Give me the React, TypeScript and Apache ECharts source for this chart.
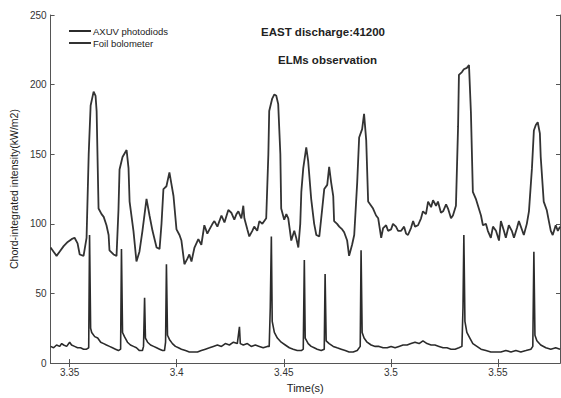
import React, { useEffect, useRef } from "react";
import * as echarts from "echarts";

// Foil bolometer (upper, slow trace)
const bolTime = [3.3411,3.3425,3.3439,3.3453,3.3472,3.3491,3.3509,3.3523,3.3537,3.3547,3.3565,3.3579,3.3589,3.3598,3.3612,3.3621,3.3626,3.3635,3.3649,3.3659,3.3672,3.3682,3.3686,3.3705,3.3719,3.3728,3.3733,3.3747,3.3766,3.3775,3.3780,3.3798,3.3812,3.3826,3.3840,3.3859,3.3873,3.3887,3.3906,3.3920,3.3929,3.3938,3.3952,3.3966,3.3976,3.3985,3.3999,3.4013,3.4022,3.4036,3.4050,3.4059,3.4069,3.4083,3.4101,3.4115,3.4129,3.4143,3.4153,3.4167,3.4176,3.4190,3.4209,3.4223,3.4241,3.4255,3.4269,3.4279,3.4288,3.4302,3.4311,3.4316,3.4330,3.4339,3.4353,3.4362,3.4376,3.4386,3.4400,3.4409,3.4418,3.4428,3.4432,3.4446,3.4456,3.4465,3.4474,3.4484,3.4488,3.4502,3.4512,3.4521,3.4535,3.4549,3.4558,3.4568,3.4577,3.4582,3.4591,3.4605,3.4614,3.4628,3.4642,3.4652,3.4666,3.4679,3.4689,3.4703,3.4712,3.4721,3.4731,3.4735,3.4749,3.4759,3.4773,3.4782,3.4796,3.4805,3.4819,3.4829,3.4843,3.4852,3.4866,3.4875,3.4885,3.4894,3.4908,3.4917,3.4931,3.4941,3.4955,3.4964,3.4978,3.4987,3.5001,3.5010,3.5024,3.5034,3.5048,3.5062,3.5071,3.5080,3.5094,3.5104,3.5113,3.5127,3.5141,3.5150,3.5164,3.5174,3.5188,3.5197,3.5211,3.5220,3.5234,3.5244,3.5258,3.5267,3.5281,3.5290,3.5304,3.5314,3.5318,3.5332,3.5341,3.5355,3.5365,3.5374,3.5383,3.5397,3.5407,3.5421,3.5430,3.5444,3.5453,3.5467,3.5477,3.5491,3.5505,3.5514,3.5528,3.5537,3.5551,3.5565,3.5575,3.5589,3.5598,3.5612,3.5621,3.5635,3.5645,3.5659,3.5668,3.5677,3.5686,3.5696,3.5700,3.5714,3.5728,3.5738,3.5747,3.5756,3.5770,3.5780,3.5790];
const bolValue = [83,80,77,80,84,87,89,90,86,78,77,90,150,185,195,192,181,111,107,105,99,92,81,78,77,110,139,148,153,140,116,95,73,80,95,118,106,95,83,82,100,125,127,137,128,120,96,92,88,71,75,78,73,83,89,85,99,93,96,100,102,98,106,101,110,108,103,107,109,104,113,104,96,91,95,98,95,102,100,102,104,150,181,190,193,192,186,150,111,103,107,104,88,95,90,83,100,123,140,155,145,118,100,92,91,110,125,128,141,130,120,102,100,98,96,94,88,77,85,92,130,162,168,179,160,116,113,111,106,104,90,97,99,95,96,100,98,95,95,98,93,92,97,102,98,99,104,109,107,116,112,117,113,116,108,109,114,111,104,106,113,170,207,209,211,212,214,180,123,118,113,106,99,100,95,90,98,95,88,102,95,90,99,95,90,97,102,96,92,100,109,140,167,171,173,165,148,116,110,102,95,92,99,95,98];

// AXUV photodiodes (lower, fast spiky trace)
const axuvTime = [3.3411,3.3425,3.3439,3.3453,3.3463,3.3472,3.3486,3.3500,3.3509,3.3523,3.3537,3.3551,3.3565,3.3579,3.3589,3.3593,3.3598,3.3603,3.3617,3.3631,3.3645,3.3659,3.3672,3.3686,3.3700,3.3714,3.3728,3.3738,3.3742,3.3747,3.3756,3.3770,3.3784,3.3798,3.3812,3.3826,3.3840,3.3845,3.3850,3.3854,3.3864,3.3878,3.3892,3.3906,3.3920,3.3934,3.3943,3.3948,3.3952,3.3957,3.3966,3.3980,3.3994,3.4008,3.4022,3.4041,3.4059,3.4078,3.4097,3.4115,3.4134,3.4153,3.4171,3.4190,3.4209,3.4227,3.4246,3.4265,3.4283,3.4293,3.4297,3.4311,3.4330,3.4348,3.4367,3.4386,3.4404,3.4423,3.4432,3.4437,3.4442,3.4446,3.4456,3.4470,3.4488,3.4507,3.4526,3.4544,3.4563,3.4582,3.4591,3.4596,3.4600,3.4614,3.4628,3.4642,3.4656,3.4675,3.4689,3.4693,3.4698,3.4712,3.4731,3.4749,3.4768,3.4787,3.4805,3.4824,3.4843,3.4857,3.4861,3.4866,3.4875,3.4889,3.4908,3.4927,3.4945,3.4964,3.4983,3.5001,3.5020,3.5038,3.5057,3.5076,3.5094,3.5113,3.5132,3.5150,3.5169,3.5188,3.5206,3.5225,3.5244,3.5262,3.5281,3.5300,3.5318,3.5332,3.5337,3.5341,3.5346,3.5355,3.5369,3.5383,3.5402,3.5421,3.5444,3.5467,3.5491,3.5514,3.5537,3.5561,3.5584,3.5607,3.5631,3.5654,3.5663,3.5668,3.5673,3.5682,3.5700,3.5724,3.5747,3.5770,3.5790];
const axuvValue = [12,11,13,12,14,13,12,15,13,12,11,11,10,10,11,92,25,22,19,18,15,14,13,12,11,10,9,10,82,22,19,15,13,12,11,9,9,12,47,18,15,13,12,11,10,9,9,15,71,20,17,14,12,11,10,9,8,8,8,9,10,11,12,13,12,14,13,15,14,26,14,13,14,12,13,12,11,12,12,40,91,30,22,18,15,13,11,10,9,9,10,74,18,14,12,11,10,9,10,64,16,14,12,11,10,9,8,8,9,12,81,22,18,15,13,12,12,11,11,12,11,12,13,13,14,15,14,16,14,13,13,12,11,11,10,10,11,12,40,92,30,22,18,14,12,10,9,8,8,8,9,8,9,8,9,10,12,80,20,16,13,11,10,11,10];

const xTicks = [3.35, 3.4, 3.45, 3.5, 3.55];
const xMin = 3.3411;
const xMax = 3.579;
const yTicks = [0, 50, 100, 150, 200, 250];

export default function App() {
  const ref = useRef<HTMLDivElement>(null);
  useEffect(() => {
    document.body.style.margin = "0";
    const chart = echarts.init(ref.current!, null, { renderer: "svg" });
    const font = "Liberation Sans, Arial, sans-serif";
    const axisCol = "#555";
    const lineCol = "#2b2b2b";
    chart.setOption({
      animation: false,
      backgroundColor: "#fff",
      textStyle: { fontFamily: font },
      grid: { left: 49, right: 1, top: 15, bottom: 26 },
      legend: {
        orient: "vertical",
        left: 64,
        top: 21,
        icon: "rect",
        itemWidth: 22,
        itemHeight: 2,
        itemGap: 2,
        textStyle: { fontSize: 9.5, color: "#222", fontFamily: font, padding: [0, 0, 0, -3] },
        data: ["AXUV photodiods", "Foil bolometer"],
      },
      graphic: [
        {
          type: "text",
          left: 261,
          top: 26,
          style: { text: "EAST discharge:41200", fontSize: 11.5, fontWeight: "bold", fill: "#222", fontFamily: font },
        },
        {
          type: "text",
          left: 278,
          top: 54,
          style: { text: "ELMs observation", fontSize: 11.5, fontWeight: "bold", fill: "#222", fontFamily: font },
        },
      ],
      xAxis: [
        {
          type: "value",
          min: xMin,
          max: xMax,
          name: "Time(s)",
          nameLocation: "middle",
          nameGap: 17,
          nameTextStyle: { fontSize: 11, color: "#222" },
          axisLine: { show: true, lineStyle: { color: axisCol, width: 1 } },
          axisTick: { show: true, inside: true, length: 4, customValues: xTicks, lineStyle: { color: axisCol } },
          axisLabel: { customValues: xTicks, fontSize: 10, color: "#333", margin: 4, formatter: (v: number) => String(+v.toFixed(2)) },
          splitLine: { show: false },
        },
        {
          type: "value",
          position: "top",
          min: xMin,
          max: xMax,
          axisLine: { show: true, lineStyle: { color: axisCol, width: 1 } },
          axisTick: { show: true, inside: true, length: 4, customValues: xTicks, lineStyle: { color: axisCol } },
          axisLabel: { show: false },
          splitLine: { show: false },
        },
      ],
      yAxis: [
        {
          type: "value",
          min: yTicks[0],
          max: yTicks[yTicks.length - 1],
          interval: 50,
          name: "Chord-integrated intensity(kW/m2)",
          nameLocation: "middle",
          nameGap: 30,
          nameTextStyle: { fontSize: 10.5, color: "#222" },
          axisLine: { show: true, lineStyle: { color: axisCol, width: 1 } },
          axisTick: { show: true, inside: true, length: 4, lineStyle: { color: axisCol } },
          axisLabel: { fontSize: 10, color: "#333", margin: 4 },
          splitLine: { show: false },
        },
        {
          type: "value",
          position: "right",
          min: yTicks[0],
          max: yTicks[yTicks.length - 1],
          interval: 50,
          axisLine: { show: true, lineStyle: { color: axisCol, width: 1 } },
          axisTick: { show: true, inside: true, length: 4, lineStyle: { color: axisCol } },
          axisLabel: { show: false },
          splitLine: { show: false },
        },
      ],
      series: [
        {
          name: "AXUV photodiods",
          type: "line",
          symbol: "none",
          data: axuvTime.map((t, i) => [t, axuvValue[i]]),
          lineStyle: { color: lineCol, width: 1.6 },
          itemStyle: { color: lineCol },
        },
        {
          name: "Foil bolometer",
          type: "line",
          symbol: "none",
          data: bolTime.map((t, i) => [t, bolValue[i]]),
          lineStyle: { color: "#333", width: 1.8 },
          itemStyle: { color: "#333" },
        },
      ],
    });
    return () => chart.dispose();
  }, []);
  return <div ref={ref} style={{ position: "absolute", left: 0, top: 0, width: 561, height: 398 }} />;
}
